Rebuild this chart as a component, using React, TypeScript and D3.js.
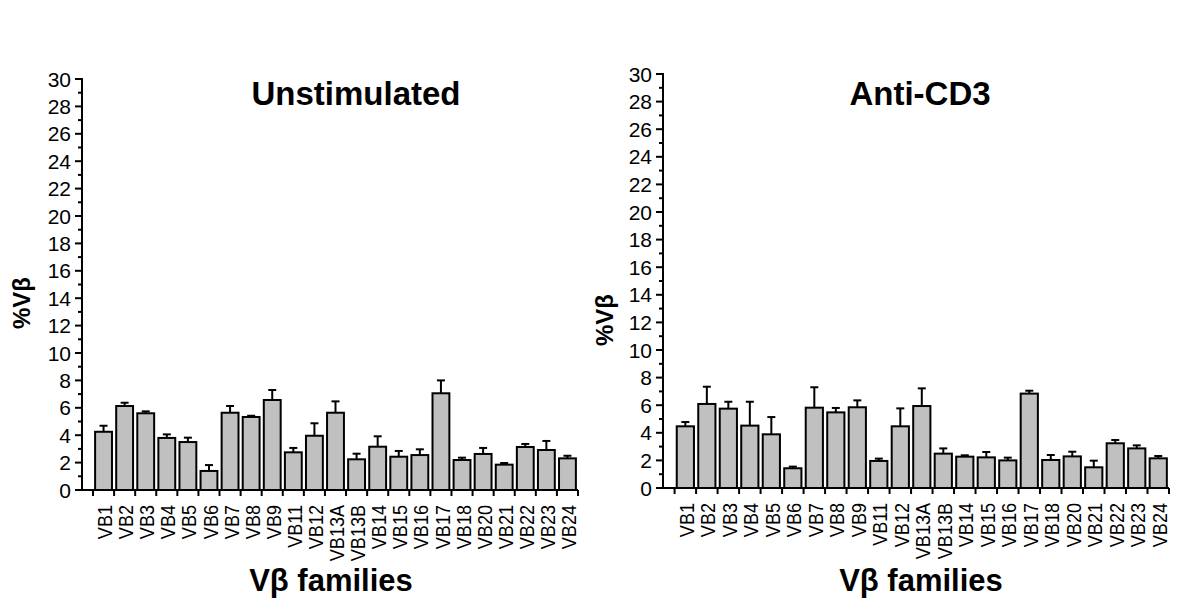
import React from "react";
import * as d3 from "d3";

const categories = ["VB1","VB2","VB3","VB4","VB5","VB6","VB7","VB8","VB9","VB11","VB12","VB13A","VB13B","VB14","VB15","VB16","VB17","VB18","VB20","VB21","VB22","VB23","VB24"];

const unstimMean = [4.25,6.13,5.6,3.8,3.5,1.39,5.64,5.33,6.57,2.75,3.96,5.64,2.24,3.16,2.43,2.55,7.06,2.19,2.63,1.85,3.14,2.92,2.31];
const unstimErr  = [0.44,0.24,0.14,0.26,0.32,0.43,0.49,0.09,0.73,0.32,0.91,0.83,0.41,0.76,0.42,0.42,0.94,0.17,0.44,0.12,0.22,0.66,0.19];

const antiMean = [4.47,6.09,5.75,4.52,3.89,1.43,5.82,5.48,5.85,1.96,4.47,5.94,2.49,2.27,2.22,2.0,6.84,2.03,2.29,1.5,3.24,2.87,2.15];
const antiErr  = [0.31,1.25,0.5,1.73,1.25,0.12,1.48,0.32,0.5,0.17,1.3,1.28,0.38,0.1,0.39,0.2,0.21,0.36,0.34,0.48,0.24,0.22,0.17];

const yTicks = d3.range(0, 31, 2);
const yMinor = d3.range(0, 31, 1);

const FONT = "'Liberation Sans', Arial, sans-serif";

type PanelProps = {
  axisX: number; axisEnd: number; bandStart: number; y0: number; y30: number;
  title: string; titleX: number; ylabX: number; ylabY: number; xlabX: number;
  mean: number[]; err: number[];
};

function Panel(p: PanelProps) {
  const y = d3.scaleLinear().domain([0, 30]).range([p.y0, p.y30]);
  const x = d3.scaleBand<string>().domain(categories).range([p.bandStart, p.axisEnd]).padding(0);
  const bw = x.bandwidth();
  const barW = bw * 0.8;
  const boundaries = categories.map((c) => x(c) as number).concat([p.axisEnd]);
  return (
    <g fontFamily={FONT}>
      {categories.map((c, i) => {
        const cx = (x(c) as number) + bw / 2;
        const top = y(p.mean[i]);
        const et = y(p.mean[i] + p.err[i]);
        return (
          <g key={c}>
            <line x1={cx} x2={cx} y1={top} y2={et} stroke="#000" strokeWidth={2} />
            <line x1={cx - 4} x2={cx + 4} y1={et} y2={et} stroke="#000" strokeWidth={2} />
            <rect x={cx - barW / 2} y={top} width={barW} height={y(0) - top} fill="#c0c0c0" stroke="#000" strokeWidth={2} />
          </g>
        );
      })}
      <line x1={p.axisX} x2={p.axisX} y1={y(30) - 1} y2={y(0) + 1} stroke="#000" strokeWidth={2} />
      {yMinor.map((v) => (
        <line key={"m" + v} x1={p.axisX - (v % 2 === 0 ? 7 : 4)} x2={p.axisX} y1={y(v)} y2={y(v)} stroke="#000" strokeWidth={2} />
      ))}
      {yTicks.map((v) => (
        <text key={"t" + v} x={p.axisX - 11} y={y(v)} dy="0.36em" textAnchor="end" fontSize={21} fill="#000">{v}</text>
      ))}
      <line x1={p.axisX} x2={p.axisEnd} y1={y(0)} y2={y(0)} stroke="#000" strokeWidth={2} />
      {boundaries.map((b, i) => (
        <line key={"xb" + i} x1={b} x2={b} y1={y(0)} y2={y(0) + 6} stroke="#000" strokeWidth={2} />
      ))}
      {categories.map((c) => {
        const cx = (x(c) as number) + bw / 2 + 1;
        const ty = y(0) + 15;
        return (
          <text key={"xl" + c} transform={`translate(${cx},${ty}) rotate(-90) scale(0.86,1)`} textAnchor="end" dy="0.36em" fontSize={21} fill="#000">{c}</text>
        );
      })}
      <text x={p.titleX} y={105} textAnchor="middle" fontSize={33} fontWeight="bold" fill="#000">{p.title}</text>
      <text transform={`translate(${p.ylabX},${p.ylabY}) rotate(-90)`} textAnchor="middle" fontSize={24} fontWeight="bold" fill="#000">%Vβ</text>
      <text x={p.xlabX} y={591} textAnchor="middle" fontSize={31} fontWeight="bold" fill="#000">Vβ families</text>
    </g>
  );
}

export default function App() {
  return (
    <svg width={1200} height={614} style={{ position: "absolute", left: 0, top: 0, background: "#fff" }}>
      <rect width={1200} height={614} fill="#fff" />
      <Panel axisX={82} axisEnd={578} bandStart={93} y0={490} y30={79}
        title="Unstimulated" titleX={356} ylabX={30} ylabY={303} xlabX={331}
        mean={unstimMean} err={unstimErr} />
      <Panel axisX={663} axisEnd={1169} bandStart={674.6} y0={488} y30={74}
        title="Anti-CD3" titleX={920} ylabX={613} ylabY={320} xlabX={921}
        mean={antiMean} err={antiErr} />
    </svg>
  );
}
